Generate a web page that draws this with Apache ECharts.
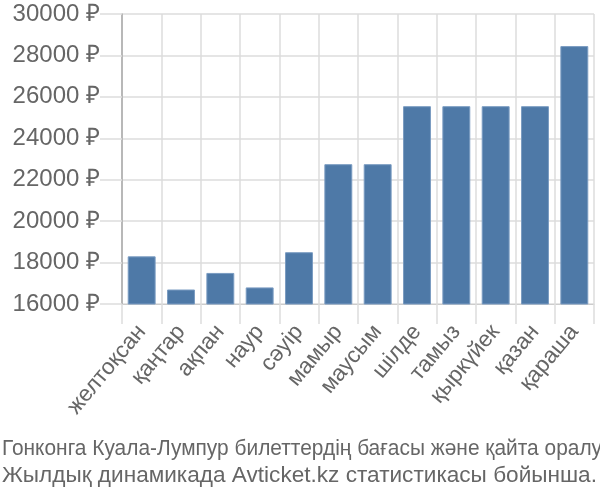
<!DOCTYPE html>
<html>
<head>
<meta charset="utf-8">
<script src="https://cdn.jsdelivr.net/npm/echarts@6/dist/echarts.min.js"></script>
<style>html,body{margin:0;padding:0;background:#fff}#c{width:600px;height:500px}</style>
</head>
<body>
<div id="c"></div>
<script>
var categories = ['желтоқсан','қаңтар','ақпан','наур','сәуір','мамыр','маусым','шілде','тамыз','қыркүйек','қазан','қараша'];
var prices = [18300, 16700, 17500, 16800, 18500, 22750, 22750, 25550, 25550, 25550, 25550, 28450];
var yMin = 16000, yMax = 30000, yStep = 2000;
var captionLines = ['Гонконга Куала-Лумпур билеттердің бағасы және қайта оралу', 'Жылдық динамикада Avticket.kz статистикасы бойынша.'];

var chart = echarts.init(document.getElementById('c'), null, {renderer: 'canvas'});
var font = '"Liberation Sans", Arial, sans-serif';
var capFont = '22.6px "Liberation Sans", Arial, sans-serif';
chart.setOption({
  animation: false,
  textStyle: {fontFamily: font},
  graphic: [
    {type: 'text', x: 2, y: 449, scaleX: 0.925, scaleY: 1,
     style: {text: captionLines[0], x: 0, y: 0, font: capFont, fill: '#666', verticalAlign: 'middle', align: 'left'}},
    {type: 'text', x: 2, y: 476, scaleX: 1, scaleY: 1,
     style: {text: captionLines[1], x: 0, y: 0, font: capFont, fill: '#666', verticalAlign: 'middle', align: 'left'}}
  ],
  grid: {left: 122, right: 6, top: 14, bottom: 196, containLabel: false},
  xAxis: {
    type: 'category',
    data: categories,
    boundaryGap: true,
    axisLine: {show: true, lineStyle: {color: '#ccc', width: 1}},
    axisTick: {show: true, length: 20, interval: 0, lineStyle: {color: '#ddd', width: 1.5}},
    splitLine: {show: true, interval: 0, lineStyle: {color: '#ddd', width: 1.5}},
    axisLabel: {interval: 0, rotate: 50, margin: 24, fontSize: 22.5, color: '#666', fontFamily: font}
  },
  yAxis: {
    type: 'value',
    min: yMin, max: yMax, interval: yStep,
    axisLine: {show: true, lineStyle: {color: '#aaa', width: 1.5}},
    axisTick: {show: true, length: 22, lineStyle: {color: '#ddd', width: 1.5}},
    splitLine: {show: true, lineStyle: {color: '#ddd', width: 1.5}},
    axisLabel: {margin: 22, fontSize: 24, color: '#666', fontFamily: font, formatter: function (v) { return v + ' ₽'; }}
  },
  series: [{
    type: 'bar',
    data: prices,
    barWidth: '71%',
    itemStyle: {color: '#4e79a7', borderColor: '#7b9cc2', borderWidth: 1}
  }]
});
</script>
</body>
</html>
